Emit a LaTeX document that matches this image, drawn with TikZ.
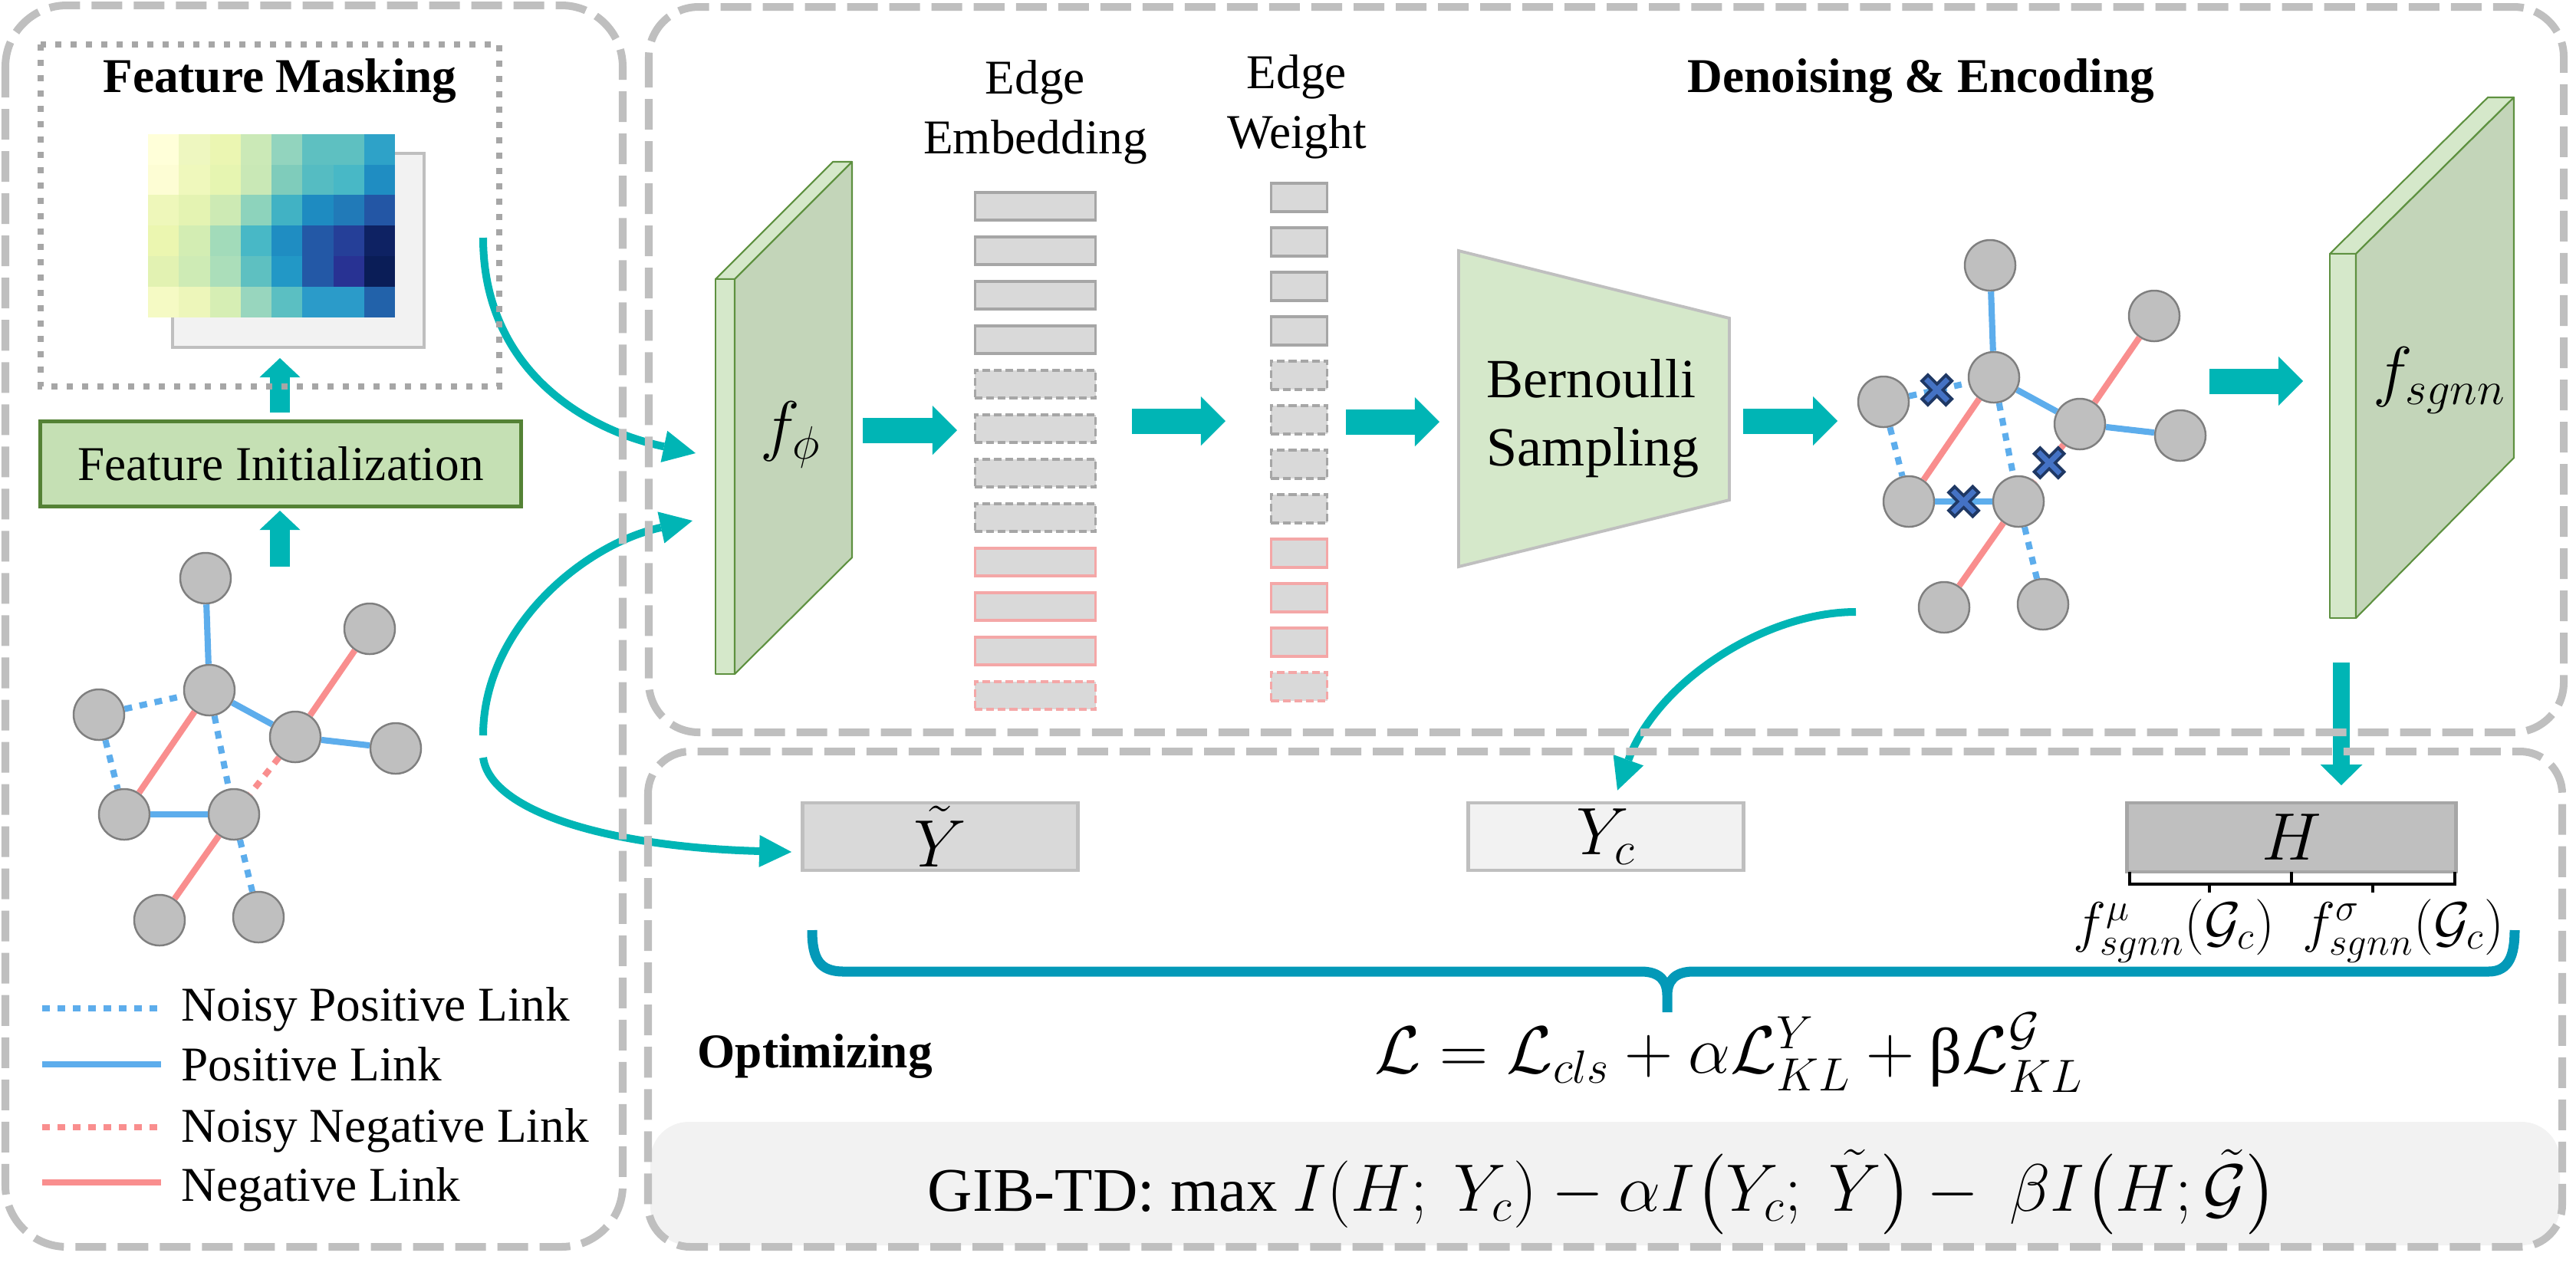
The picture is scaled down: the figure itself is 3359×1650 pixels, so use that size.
\documentclass[tikz,border=0pt]{standalone}
\usepackage{amsmath}
\usepackage{fontspec}
\setmainfont{Liberation Serif}
\usetikzlibrary{arrows.meta}
\definecolor{panelgray}{HTML}{BFBFBF}
\definecolor{dotgray}{HTML}{A6A6A6}
\definecolor{lightfill}{HTML}{F2F2F2}
\definecolor{boxgray}{HTML}{D9D9D9}
\definecolor{boxedge}{HTML}{A6A6A6}
\definecolor{redbox}{HTML}{F4A7A7}
\definecolor{flowteal}{HTML}{00B5B5}
\definecolor{bracecol}{HTML}{0399B8}
\definecolor{posblue}{HTML}{5DADEC}
\definecolor{negred}{HTML}{F98E8E}
\definecolor{nodegray}{HTML}{BFBFBF}
\definecolor{nodeedge}{HTML}{7F7F7F}
\definecolor{initfill}{HTML}{C5E0B4}
\definecolor{initedge}{HTML}{548235}
\definecolor{slablight}{HTML}{D5E8CA}
\definecolor{slabdark}{HTML}{C3D5B9}
\definecolor{slabedge}{HTML}{5E9140}
\definecolor{xblue}{HTML}{4472C4}
\definecolor{xnavy}{HTML}{1F3864}
\tikzset{
  panel/.style={draw=panelgray, line width=2.85pt, dash pattern=on 0.4cm off 0.15cm},
  flow/.style={draw=flowteal, line width=0.33cm, -{Triangle[width=0.64cm,length=0.32cm,line width=0pt]}},
  upflow/.style={draw=flowteal, line width=0.26cm, -{Triangle[width=0.53cm,length=0.25cm,line width=0pt]}},
  curv/.style={draw=flowteal, line width=2.85pt, -{Triangle[width=0.42cm,length=0.42cm,line width=0pt]}},
  vtx/.style={circle, fill=nodegray, draw=nodeedge, line width=0.7pt, minimum size=0.66cm, inner sep=0pt},
  poslink/.style={draw=posblue, line width=2.3pt},
  neglink/.style={draw=negred, line width=2.3pt},
  nposlink/.style={poslink, dash pattern=on 0.1cm off 0.1cm},
  nneglink/.style={neglink, dash pattern=on 0.1cm off 0.1cm},
  txt/.style={font=\fontsize{18}{21}\selectfont, inner sep=0pt},
  ttl/.style={font=\bfseries\fontsize{18}{21}\selectfont, inner sep=0pt},
  ebox/.style={rectangle, fill=boxgray, line width=1.1pt, minimum width=1.57cm, minimum height=0.36cm, inner sep=0pt},
  wbox/.style={ebox, minimum width=0.73cm, minimum height=0.37cm},
  solidgray/.style={draw=boxedge},
  dashgray/.style={draw=boxedge, dash pattern=on 0.1cm off 0.05cm},
  solidred/.style={draw=redbox},
  dashred/.style={draw=redbox, dash pattern=on 0.1cm off 0.05cm},
  slabfront/.style={fill=slablight, draw=slabedge, line width=0.6pt, line join=round},
  slabside/.style={fill=slabdark, draw=slabedge, line width=0.6pt, line join=round},
  ybox/.style={rectangle, line width=1.3pt, minimum width=3.59cm, minimum height=0.88cm, inner sep=0pt, font=\fontsize{23}{28}\selectfont},
  brc/.style={draw=bracecol, line width=3.7pt, line join=round},
}
% same signed graph, used for the input and for the sampled one
\newcommand{\signedgraph}[1]{%
  \foreach \n/\x/\y in {1/268/754, 2/482/820, 3/129/932, 4/273/900, 5/385/961,
                        6/516/976, 7/162/1062, 8/305/1062, 9/208/1200, 10/337/1196}
    \node[vtx] (#1\n) at (\x,-\y) {};
  \draw[poslink] (#11) -- (#14);
  \draw[nposlink] (#13) -- (#14);
  \draw[poslink] (#14) -- (#15);
  \draw[neglink] (#15) -- (#12);
  \draw[poslink] (#15) -- (#16);
  \draw[neglink] (#14) -- (#17);
  \draw[nposlink] (#13) -- (#17);
  \draw[nposlink] (#14) -- (#18);
  \draw[nneglink] (#15) -- (#18);
  \draw[poslink] (#17) -- (#18);
  \draw[neglink] (#18) -- (#19);
  \draw[nposlink] (#18) -- (#110);
}

\begin{document}
\begin{tikzpicture}[x=0.01cm, y=0.01cm]
  \useasboundingbox (0,0) rectangle (3359,-1650);

  % optimizing background
  \fill[lightfill, rounded corners=0.5cm] (848,-1463) rectangle (3338,-1624);

  % ---- feature masking
  \node[ttl, anchor=base] (maskT) at (365,-120) {Feature Masking};
  \draw[draw=panelgray, fill=lightfill, line width=1.1pt] (225,-200) rectangle (553,-453);
  \foreach \rowc [count=\r] in {
      {FFFFD9,EEF7C0,EBF6B2,CBE9B7,92D4BE,5EC0C1,5EC0C1,2EA2C8},
      {FDFDD4,EFF8BC,E6F5B1,C9E8B6,7FCCBB,55BCC2,48B8C6,1F8DC2},
      {EEF7BA,E4F3B2,CDEAB4,8DD3BC,41B2C4,1E8BC1,217AB8,2356A5},
      {EBF6B0,D3EDB3,A2DBBA,48B8C6,1F8DC2,2358A6,253F98,0E2263},
      {E2F2B2,CEEBB5,ABDEBA,5EC0C1,2298C6,2358A6,283293,0A1D57},
      {F5FAC4,EDF6BA,D6EEB4,98D6BE,5BBFC2,2B9BC9,2B9BC9,2262AA}} {
    \foreach \c [count=\k] in \rowc {
      \edef\setcell{\noexpand\definecolor{cell}{HTML}{\c}}\setcell
      \fill[cell] ({193+(\k-1)*40.25},{-175-(\r-1)*39.7}) rectangle ++(40.6,-40.1);
    }
  }

  % ---- feature initialization
  \node[txt, fill=initfill, draw=initedge, line width=1.4pt, minimum width=6.27cm, minimum height=1.11cm] (finit) at (366,-605) {Feature Initialization};
  \coordinate (up1s) at (365,-538);
  \coordinate (up1e) at (365,-467);
  \coordinate (up2s) at (365,-739);
  \coordinate (up2e) at (365,-666);
  \draw[upflow] (up1s) -- (up1e);
  \draw[upflow] (up2s) -- (up2e);

  % ---- input graph and legend
  \signedgraph{g}
  \foreach \st/\t/\ly/\by [count=\k] in {nposlink/Noisy Positive Link/1315/1331,
      poslink/Positive Link/1388/1409, nneglink/Noisy Negative Link/1470/1489,
      neglink/Negative Link/1542/1566} {
    \coordinate (lg\k) at (55,-\ly);
    \draw[\st, line width=2.5pt] (lg\k) -- ++(155,0);
    \node[txt, anchor=base west] (lgt\k) at (236,-\by) {\t};
  }

  % ---- denoising & encoding
  \node[ttl, anchor=base] (denT) at (2505,-120) {Denoising \& Encoding};
  \draw[slabfront] (933,-364) -- (1086,-211) -- (1111,-211) -- (958,-364) -- cycle;
  \draw[slabfront] (933,-364) rectangle (958,-879);
  \draw[slabside] (958,-364) -- (1111,-211) -- (1111,-727) -- (958,-879) -- cycle;
  \node[font=\fontsize{25}{30}\selectfont] (fphi) at (1031,-567) {$f_{\phi}$};

  \node[txt, anchor=base] (embT1) at (1350,-122) {Edge};
  \node[txt, anchor=base] (embT2) at (1350,-200) {Embedding};
  \node[txt, anchor=base] (wtT1) at (1691,-115) {Edge};
  \node[txt, anchor=base] (wtT2) at (1691,-193) {Weight};
  \foreach \i/\kind in {1/solidgray,2/solidgray,3/solidgray,4/solidgray,5/dashgray,6/dashgray,
                        7/dashgray,8/dashgray,9/solidred,10/solidred,11/solidred,12/dashred} {
    \node[ebox, \kind] (emb\i) at (1350,{-269-(\i-1)*58}) {};
    \node[wbox, \kind] (wt\i) at (1694,{-257.5-(\i-1)*58}) {};
  }

  \draw[fill=slablight, draw=panelgray, line width=1.1pt] (1902,-327) -- (2255,-415) -- (2255,-652) -- (1902,-739) -- cycle;
  \node[font=\fontsize{20.5}{25}\selectfont, inner sep=0pt, anchor=base] (bern1) at (2075,-518) {Bernoulli};
  \node[font=\fontsize{20.5}{25}\selectfont, inner sep=0pt, anchor=base] (bern2) at (2077,-607) {Sampling};

  \coordinate (a1s) at (1125,-561);
  \coordinate (a1e) at (1248,-561);
  \coordinate (a2s) at (1476,-549);
  \coordinate (a2e) at (1598,-549);
  \coordinate (a3s) at (1755,-550);
  \coordinate (a3e) at (1877,-550);
  \coordinate (a4s) at (2273,-549);
  \coordinate (a4e) at (2396,-549);
  \coordinate (a5s) at (2881,-497);
  \coordinate (a5e) at (3003,-497);
  \draw[flow] (a1s) -- (a1e);
  \draw[flow] (a2s) -- (a2e);
  \draw[flow] (a3s) -- (a3e);
  \draw[flow] (a4s) -- (a4e);
  \draw[flow] (a5s) -- (a5e);

  % sampled graph
  \begin{scope}[shift={(2327,408)}]
    \signedgraph{s}
  \end{scope}
  \path (s3) -- (s4) coordinate[pos=0.47] (cut1);
  \path (s5) -- (s8) coordinate[pos=0.5] (cut2);
  \path (s7) -- (s8) coordinate[pos=0.5] (cut3);
  \foreach \c in {cut1,cut2,cut3} {
    \draw[xnavy, line width=4.2pt] ([shift={(-17,17)}]\c) -- ([shift={(17,-17)}]\c)
      ([shift={(-17,-17)}]\c) -- ([shift={(17,17)}]\c);
    \draw[xblue, line width=2pt] ([shift={(-14,14)}]\c) -- ([shift={(14,-14)}]\c)
      ([shift={(-14,-14)}]\c) -- ([shift={(14,14)}]\c);
  }

  \draw[slabfront] (3038,-331) -- (3244,-127) -- (3278,-127) -- (3072,-331) -- cycle;
  \draw[slabfront] (3038,-331) rectangle (3072,-806);
  \draw[slabside] (3072,-331) -- (3278,-127) -- (3278,-597) -- (3072,-806) -- cycle;
  \node[font=\fontsize{25}{30}\selectfont] (fsgnn) at (3181,-496) {$f_{sgnn}$};

  % ---- optimizing
  \node[ybox, fill=boxgray, draw=panelgray] (ytil) at (1226,-1091) {$\tilde{Y}$};
  \node[ybox, fill=lightfill, draw=panelgray] (yc) at (2094,-1091) {$Y_c$};
  \node[ybox, fill=panelgray, draw=boxedge, minimum width=4.29cm, minimum height=0.9cm] (hbox) at (2988,-1092) {$H$};
  \coordinate (a6s) at (3053,-864);
  \coordinate (a6e) at (3053,-1024);
  \draw[flow, line width=0.22cm, -{Triangle[width=0.55cm,length=0.27cm,line width=0pt]}] (a6s) -- (a6e);

  \draw[line width=1pt] (2777,-1137) |- (2988,-1153) -- (2988,-1137)
    (2988,-1153) -| (3201,-1137)
    (2881,-1153) -- ++(0,-11) (3094,-1153) -- ++(0,-11);
  \node[font=\fontsize{20}{24}\selectfont, inner sep=0pt, anchor=base] (fmu) at (2835,-1227) {$f^{\mu}_{sgnn}(\mathcal{G}_c)$};
  \node[font=\fontsize{20}{24}\selectfont, inner sep=0pt, anchor=base] (fsig) at (3134,-1227) {$f^{\sigma}_{sgnn}(\mathcal{G}_c)$};

  \draw[brc] (1059,-1213) .. controls (1059,-1250) and (1068,-1267) .. (1100,-1267)
    -- (2140,-1267) .. controls (2165,-1267) and (2174,-1280) .. (2174,-1298) -- (2174,-1320)
    (2174,-1298) .. controls (2174,-1280) and (2183,-1267) .. (2208,-1267)
    -- (3245,-1267) .. controls (3272,-1267) and (3279,-1245) .. (3279,-1213);

  \node[ttl, anchor=base west] (optT) at (909,-1392) {Optimizing};
  \node[font=\fontsize{24}{28}\selectfont, inner sep=0pt, anchor=base west] (loss) at (1792,-1399)
    {$\mathcal{L}=\mathcal{L}_{cls}+\alpha\mathcal{L}^{Y}_{KL}+\mbox{β}\mathcal{L}^{\mathcal{G}}_{KL}$};
  \node[font=\fontsize{23}{28}\selectfont, inner sep=0pt, anchor=base west] (gib) at (1209,-1579)
    {GIB-TD: max $I(H;\ Y_c)-\alpha I\big(Y_c;\ \tilde{Y}\big)-\ \beta I\big(H;\tilde{\mathcal{G}}\big)$};

  % ---- curved connectors
  \coordinate (c1s) at (630,-310);
  \coordinate (c1e) at (907,-591);
  \coordinate (c2s) at (630,-959);
  \coordinate (c2e) at (903,-679);
  \coordinate (c3s) at (630,-988);
  \coordinate (c4s) at (2420,-798);
  \draw[curv] (c1s) .. controls (630,-480) and (760,-560) .. (c1e);
  \draw[curv] (c2s) .. controls (630,-820) and (760,-710) .. (c2e);
  \draw[curv] (c3s) .. controls (640,-1060) and (800,-1105) .. ([shift={(-12,-20)}]ytil.west);
  \draw[curv] (c4s) .. controls (2300,-798) and (2160,-890) .. ([shift={(15,14)}]yc.north);

  % ---- frames
  \draw[draw=dotgray, line width=2.2pt, dash pattern=on 0.08cm off 0.12cm] (53,-58) rectangle (651,-504);
  \draw[panel, rounded corners=0.8cm] (7,-7) rectangle (812,-1626);
  \draw[panel, rounded corners=0.65cm] (846,-9) rectangle (3343,-955);
  \draw[panel, rounded corners=0.55cm] (845,-980) rectangle (3341,-1626);
\end{tikzpicture}
\end{document}
